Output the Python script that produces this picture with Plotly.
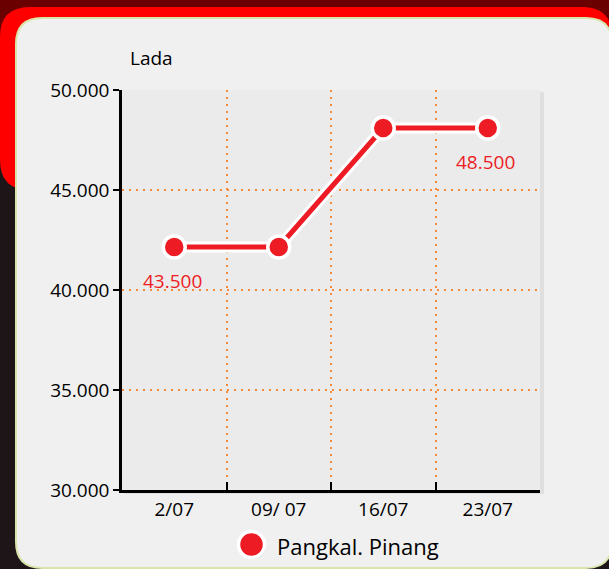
import plotly.graph_objects as go

# Data
categories = ["2/07", "09/ 07", "16/07", "23/07"]
prices = [42150, 42150, 48100, 48100]
price_labels = ["43.500", "", "", "48.500"]
series_name = "Pangkal. Pinang"
y_title = "Lada"

COLORS = {
    'red': '#ed1c24',
    'grid': '#f58a3c',
    'panel': '#eff0ef',
    'panel_border': '#d9e5a8',
    'plot_bg': '#ebebeb',
    'bg_dark': '#1e1519',
    'bg_top': '#6b0000',
    'bg_red': '#ff0000',
    'text': '#000000',
}
FONT = "Open Sans, Noto Sans, sans-serif"

W, H = 609, 569
ML, MR, MT, MB = 122, 69, 90, 79
PW, PH = W - ML - MR, H - MT - MB


def px(x):
    return (x - ML) / PW


def py(y):
    return (H - MB - y) / PH


def rounded_path(x0, y0, x1, y1, r):
    """Rounded rectangle path in paper coordinates, from pixel values."""
    pts = []
    pts.append(f"M {px(x0 + r)},{py(y0)}")
    pts.append(f"L {px(x1 - r)},{py(y0)}")
    pts.append(f"Q {px(x1)},{py(y0)} {px(x1)},{py(y0 + r)}")
    pts.append(f"L {px(x1)},{py(y1 - r)}")
    pts.append(f"Q {px(x1)},{py(y1)} {px(x1 - r)},{py(y1)}")
    pts.append(f"L {px(x0 + r)},{py(y1)}")
    pts.append(f"Q {px(x0)},{py(y1)} {px(x0)},{py(y1 - r)}")
    pts.append(f"L {px(x0)},{py(y0 + r)}")
    pts.append(f"Q {px(x0)},{py(y0)} {px(x0 + r)},{py(y0)}")
    return " ".join(pts) + " Z"


fig = go.Figure()

# white halo under the line
fig.add_trace(go.Scatter(
    x=categories, y=prices, mode='lines',
    line=dict(color='white', width=11),
    hoverinfo='skip', showlegend=False,
))
fig.add_trace(go.Scatter(
    x=categories, y=prices, mode='lines',
    line=dict(color=COLORS['red'], width=5),
    hoverinfo='skip', showlegend=False,
))
fig.add_trace(go.Scatter(
    x=categories, y=prices, mode='markers',
    marker=dict(size=22, color=COLORS['red'], line=dict(color='white', width=3.5)),
    name=series_name, cliponaxis=False, showlegend=False,
))

for cat, val, lab in zip(categories, prices, price_labels):
    if lab:
        fig.add_annotation(
            x=cat, y=val, text=lab, showarrow=False, yshift=-34, xshift=-2,
            font=dict(color=COLORS['red'], size=19, family=FONT),
        )

fig.add_annotation(
    x=px(128), y=py(58), xref='paper', yref='paper', text=y_title,
    showarrow=False, xanchor='left', yanchor='middle',
    font=dict(color=COLORS['text'], size=19, family=FONT),
)

# legend (drawn by hand so the symbol can be as large as in the original)
fig.add_annotation(
    x=px(275), y=py(546), xref='paper', yref='paper', text=series_name,
    showarrow=False, xanchor='left', yanchor='middle',
    font=dict(color=COLORS['text'], size=22, family=FONT),
)

shapes = [
    dict(type='rect', xref='paper', yref='paper', layer='below',
         x0=px(0), x1=px(W), y0=py(0), y1=py(60),
         fillcolor=COLORS['bg_top'], line_width=0),
    dict(type='path', xref='paper', yref='paper', layer='below',
         path=rounded_path(0, 7, 612, 190, 30),
         fillcolor=COLORS['bg_red'], line_width=0),
    dict(type='path', xref='paper', yref='paper', layer='below',
         path=rounded_path(16, 18, 612, 568, 26),
         fillcolor=COLORS['panel'], line=dict(color=COLORS['panel_border'], width=2)),
    # soft shadow of the plot area
    dict(type='rect', xref='paper', yref='paper', layer='below',
         x0=px(ML + 2), x1=px(W - MR + 4), y0=py(H - MB + 4), y1=py(MT + 2),
         fillcolor='rgba(0,0,0,0.07)', line_width=0),
    dict(type='rect', xref='paper', yref='paper', layer='below',
         x0=0, x1=1, y0=0, y1=1,
         fillcolor=COLORS['plot_bg'], line_width=0),
    # legend symbol
    dict(type='circle', xref='paper', yref='paper', layer='above',
         x0=px(240), x1=px(266), y0=py(559), y1=py(533),
         fillcolor='rgba(0,0,0,0.12)', line_width=0),
    dict(type='circle', xref='paper', yref='paper', layer='above',
         x0=px(238.5), x1=px(264.5), y0=py(557.5), y1=py(531.5),
         fillcolor=COLORS['red'], line=dict(color='white', width=3.5)),
]

fig.update_layout(
    width=W, height=H,
    margin=dict(l=ML, r=MR, t=MT, b=MB),
    paper_bgcolor=COLORS['bg_dark'],
    plot_bgcolor='rgba(0,0,0,0)',
    separators=',.',
    font=dict(family=FONT, color=COLORS['text'], size=19),
    shapes=shapes,
    showlegend=False,
    xaxis=dict(
        type='category', range=[-0.5, 3.5], tickson='boundaries',
        showgrid=True, gridcolor=COLORS['grid'], gridwidth=1.5, griddash='2px,5px',
        showline=True, linecolor='black', linewidth=2.5,
        ticks='inside', ticklen=8, tickwidth=2, tickcolor='black',
        tickfont=dict(size=19, color=COLORS['text']),
        zeroline=False, fixedrange=True,
    ),
    yaxis=dict(
        range=[30000, 50000], dtick=5000, tickformat=',d',
        showgrid=True, gridcolor=COLORS['grid'], gridwidth=1.5, griddash='2px,5px',
        showline=True, linecolor='black', linewidth=2.5,
        ticks='outside', ticklen=6, tickwidth=2, tickcolor='black',
        tickfont=dict(size=19, color=COLORS['text']),
        zeroline=False, fixedrange=True,
    ),
)

fig.write_html(
    "out.html",
    config={'displayModeBar': False},
    post_script="document.body.style.margin='0';",
)
